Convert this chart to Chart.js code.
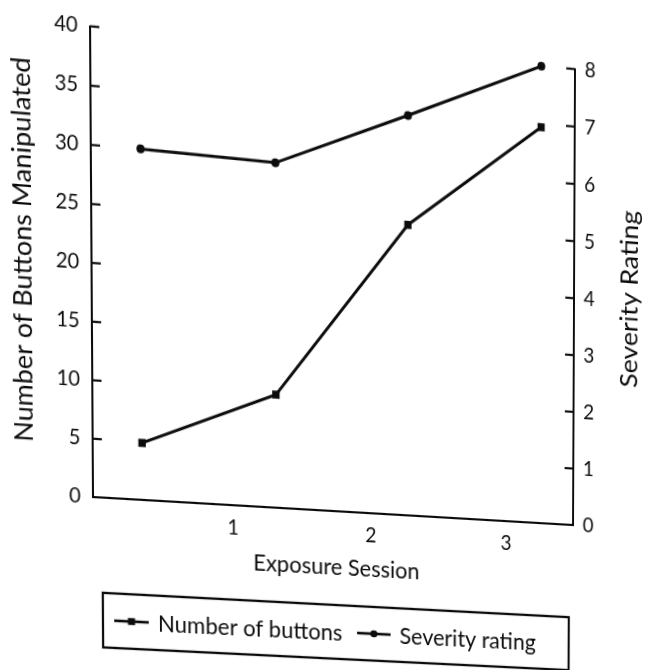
<!DOCTYPE html>
<html>
<head>
<meta charset="utf-8">
<title>Exposure Session</title>
<script src="https://cdn.jsdelivr.net/npm/chart.js@4.4.1/dist/chart.umd.min.js"></script>
<style>
  html, body { margin: 0; padding: 0; background: #fff; overflow: hidden; width: 654px; height: 670px; }
  #sheet { position: absolute; left: 0; top: 0; width: 654px; height: 604px; transform-origin: 0 0; background: #fff; }
  canvas { display: block; }
</style>
</head>
<body>
<div id="sheet"><canvas id="chart" width="654" height="604"></canvas></div>
<script>
// Session tick labels and where each measured session sits on the x axis
const sessionTicks = [1, 2, 3];
const sessionX = [0.35, 1.31, 2.27, 3.25];

// Measured series
const buttonsManipulated = [4.9, 9.8, 25.3, 34.7];
const severityRating = [6.0, 5.95, 6.95, 8.0];

const seriesLabels = ['Number of buttons', 'Severity rating'];
const axisTitles = {
  x: 'Exposure Session',
  left: 'Number of Buttons Manipulated',
  right: 'Severity Rating'
};

const INK = '#0c0c0c';
const FONT = 'Lato, "Open Sans", sans-serif';

// Short tick marks pointing into the plot area from both value axes
const inwardTicks = {
  id: 'inwardTicks',
  afterDraw(chart) {
    const { ctx, chartArea } = chart;
    ctx.save();
    ctx.strokeStyle = INK;
    ctx.lineWidth = 2;
    const mark = (scale, x0, dir) => {
      scale.ticks.forEach(t => {
        const y = scale.getPixelForValue(t.value);
        ctx.beginPath();
        ctx.moveTo(x0, y);
        ctx.lineTo(x0 + dir * 9, y);
        ctx.stroke();
      });
    };
    mark(chart.scales.y, chartArea.left, 1);
    mark(chart.scales.y2, chartArea.right, -1);
    ctx.restore();
  }
};

// Both value-axis titles, rotated to read bottom to top
const sideTitles = {
  id: 'sideTitles',
  afterDraw(chart) {
    const ctx = chart.ctx;
    const draw = (text, x, y, size) => {
      ctx.save();
      ctx.translate(x, y);
      ctx.rotate(-Math.PI / 2);
      ctx.font = size + 'px ' + FONT;
      ctx.fillStyle = INK;
      ctx.textAlign = 'center';
      ctx.textBaseline = 'middle';
      ctx.fillText(text, 0, 0);
      ctx.restore();
    };
    draw(axisTitles.left, 25, 229, 24.3);
    draw(axisTitles.right, 632, 233, 25);
  }
};

// Boxed legend under the axis title: line-with-marker swatches
const boxedLegend = {
  id: 'boxedLegend',
  afterDraw(chart) {
    const ctx = chart.ctx;
    const L = 100, T = 535, R = 570, B = 585;
    const cy = (T + B) / 2;
    ctx.save();
    ctx.strokeStyle = INK;
    ctx.lineWidth = 2.2;
    ctx.strokeRect(L, T, R - L, B - T);
    ctx.font = '22px ' + FONT;
    ctx.textBaseline = 'middle';
    ctx.fillStyle = INK;
    let x = 111;
    chart.data.datasets.forEach(ds => {
      ctx.lineWidth = 2.3;
      ctx.beginPath();
      ctx.moveTo(x, cy);
      ctx.lineTo(x + 34, cy);
      ctx.stroke();
      ctx.beginPath();
      if (ds.pointStyle === 'rect') {
        ctx.rect(x + 17 - 3.5, cy - 3.2, 7, 6.4);
      } else {
        ctx.ellipse(x + 17, cy, 3.6, 3.3, 0, 0, Math.PI * 2);
      }
      ctx.fill();
      x += 43;
      ctx.fillText(ds.label, x, cy + 1);
      x += ctx.measureText(ds.label).width + 15;
    });
    ctx.restore();
  }
};

const toPoints = (xs, ys) => xs.map((x, i) => ({ x, y: ys[i] }));

const tickFont = { family: FONT, size: 19.5 };

new Chart(document.getElementById('chart'), {
  type: 'line',
  data: {
    datasets: [
      {
        label: seriesLabels[0],
        data: toPoints(sessionX, buttonsManipulated),
        yAxisID: 'y',
        borderColor: INK,
        backgroundColor: INK,
        borderWidth: 2.8,
        pointStyle: 'rect',
        pointRadius: 5.2,
        pointBorderWidth: 0,
        tension: 0
      },
      {
        label: seriesLabels[1],
        data: toPoints(sessionX, severityRating),
        yAxisID: 'y2',
        borderColor: INK,
        backgroundColor: INK,
        borderWidth: 2.8,
        pointStyle: 'circle',
        pointRadius: 4,
        pointBorderWidth: 0,
        tension: 0
      }
    ]
  },
  options: {
    responsive: false,
    animation: false,
    clip: false,
    layout: { padding: { left: 0, right: 0, top: 19, bottom: 84 } },
    plugins: { legend: { display: false }, tooltip: { enabled: false } },
    scales: {
      x: {
        type: 'linear',
        min: 0,
        max: 3.5,
        grid: { display: false, drawTicks: false },
        border: { display: true, color: INK, width: 2 },
        afterBuildTicks(scale) { scale.ticks = sessionTicks.map(v => ({ value: v })); },
        afterFit(scale) { scale.height = 72; },
        ticks: { color: INK, font: tickFont, padding: 9, maxRotation: 0 },
        title: { display: true, text: axisTitles.x, color: INK, font: { family: FONT, size: 22 }, padding: { top: 0, bottom: 7 } }
      },
      y: {
        position: 'left',
        min: 0,
        max: 40,
        grid: { display: false, drawTicks: false },
        border: { display: true, color: INK, width: 2 },
        afterFit(scale) { scale.width = 91; },
        ticks: { stepSize: 5, color: INK, font: tickFont, padding: 12 },
        title: { display: false }
      },
      y2: {
        position: 'right',
        min: 0,
        max: 8,
        grid: { display: false, drawTicks: false },
        border: { display: true, color: INK, width: 2 },
        afterFit(scale) { scale.width = 80; },
        ticks: { stepSize: 1, color: INK, font: tickFont, padding: 10 },
        title: { display: false }
      }
    }
  },
  plugins: [inwardTicks, sideTitles, boxedLegend]
});

// Perspective warp of the whole sheet (with a slight vertical stretch),
// solved from four plot-corner correspondences
function solveHomography(src, dst) {
  const A = [], b = [];
  for (let i = 0; i < 4; i++) {
    const [x, y] = src[i], [u, v] = dst[i];
    A.push([x, y, 1, 0, 0, 0, -u * x, -u * y]); b.push(u);
    A.push([0, 0, 0, x, y, 1, -v * x, -v * y]); b.push(v);
  }
  const n = 8;
  for (let c = 0; c < n; c++) {
    let p = c;
    for (let r = c + 1; r < n; r++) if (Math.abs(A[r][c]) > Math.abs(A[p][c])) p = r;
    [A[c], A[p]] = [A[p], A[c]]; [b[c], b[p]] = [b[p], b[c]];
    for (let r = 0; r < n; r++) {
      if (r === c) continue;
      const f = A[r][c] / A[c][c];
      for (let k = c; k < n; k++) A[r][k] -= f * A[c][k];
      b[r] -= f * b[c];
    }
  }
  return b.map((val, i) => val / A[i][i]);
}
const [ha, hb, hc, hd, he, hf, hg, hh] = solveHomography(
  [[91, 19], [91, 448], [574, 19], [574, 448]],
  [[90, 21], [93, 497], [575, 64], [573, 525]]
);
document.getElementById('sheet').style.transform =
  `matrix3d(${ha},${hd},0,${hg},${hb},${he},0,${hh},0,0,1,0,${hc},${hf},0,1)`;
</script>
</body>
</html>
